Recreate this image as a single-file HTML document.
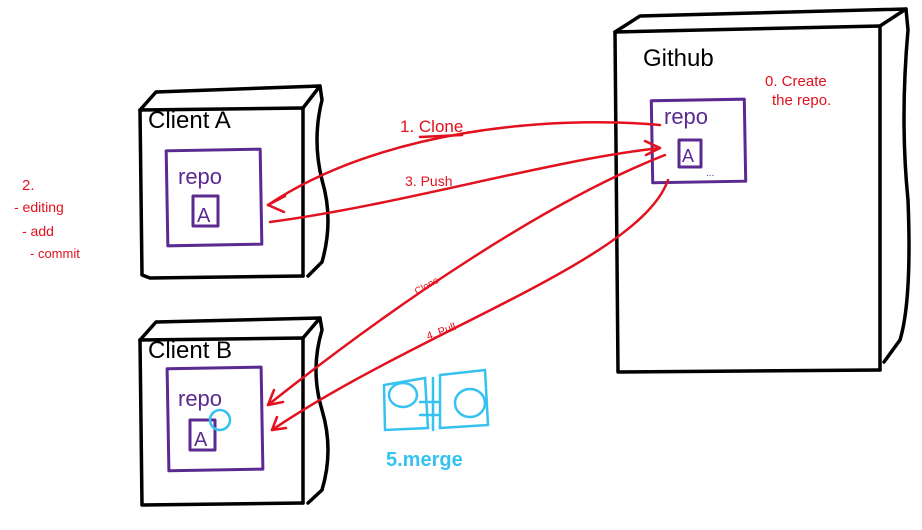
<!DOCTYPE html>
<html><head><meta charset="utf-8"><style>
html,body{margin:0;padding:0;background:#fff;width:922px;height:530px;overflow:hidden}
svg{display:block}
text{font-family:"Liberation Sans",sans-serif}
</style></head><body>
<svg width="922" height="530" viewBox="0 0 922 530" xmlns="http://www.w3.org/2000/svg">
<g fill="none" stroke="#000" stroke-width="3.5" stroke-linecap="round" stroke-linejoin="round">
<path d="M140,110 L142,275 L150,278 L303,276"/>
<path d="M140,110 L303,108 L303,276"/>
<path d="M140,110 L156,92 L320,86 L303,108"/>
<path d="M320,86 L322,100 Q312,140 322,180 Q334,220 322,262 L308,276"/>
<path d="M140,340 L142,505 L303,503"/>
<path d="M140,340 L303,338 L303,503"/>
<path d="M140,340 L156,322 L320,318 L303,338"/>
<path d="M320,318 L322,330 Q310,370 322,410 Q334,450 322,490 L308,503"/>
<path d="M615,32 L618,372 L880,370"/>
<path d="M615,32 L880,26 L880,370"/>
<path d="M615,32 L640,16 L906,9 L880,26"/>
<path d="M906,9 L908,30 Q900,120 908,200 Q912,300 900,340 L884,362"/>
</g>
<g fill="none" stroke="#5b2a91" stroke-width="3" stroke-linejoin="round" stroke-linecap="round">
<rect x="167" y="150" width="94" height="95" transform="rotate(-1 214 197)"/>
<rect x="193" y="196" width="25" height="30"/>
<rect x="652" y="100" width="93" height="82" transform="rotate(-1 698 141)"/>
<rect x="679" y="140" width="22" height="27"/>
<rect x="168" y="368" width="94" height="102" transform="rotate(-1 214 419)"/>
<rect x="190" y="420" width="25" height="30"/>
</g>
<g fill="#5b2a91" font-size="22">
<text x="178" y="184">repo</text><text x="197" y="222" font-size="20">A</text>
<text x="664" y="124">repo</text><text x="682" y="162" font-size="18">A</text>
<text x="706" y="176" font-size="10">...</text>
<text x="178" y="406">repo</text><text x="194" y="446" font-size="20">A</text>
</g>
<g fill="#000" font-size="24">
<text x="148" y="128">Client A</text>
<text x="148" y="358">Client B</text>
<text x="643" y="66">Github</text>
</g>
<g fill="none" stroke="#e3101e" stroke-width="2.5" stroke-linecap="round">
<path d="M660,125 C550,115 380,130 268,205"/>
<path d="M268,205 L285,196 M268,205 L284,212"/>
<path d="M270,222 C400,205 550,160 660,148"/>
<path d="M660,148 L645,141 M660,148 L646,155"/>
<path d="M665,155 C550,200 400,300 268,405"/>
<path d="M268,405 L274,390 M268,405 L283,402"/>
<path d="M668,180 C640,260 420,330 272,430"/>
<path d="M272,430 L277,417 M272,430 L286,428"/>
<path d="M420,137 L462,135"/>
</g>
<g fill="#e3101e">
<text x="400" y="132" font-size="17">1. Clone</text>
<text x="405" y="186" font-size="14">3.  Push</text>
<text x="417" y="295" font-size="10" transform="rotate(-30 417 295)">Clone</text>
<text x="428" y="340" font-size="11" transform="rotate(-20 428 340)">4. Pull</text>
<text x="765" y="86" font-size="15">0. Create</text>
<text x="772" y="105" font-size="15">the repo.</text>
<text x="22" y="190" font-size="15">2.</text>
<text x="14" y="212" font-size="14">- editing</text>
<text x="22" y="236" font-size="14">- add</text>
<text x="30" y="258" font-size="13">- commit</text>
</g>
<g fill="none" stroke="#36c2f0" stroke-width="2.5" stroke-linecap="round">
<circle cx="220" cy="420" r="10"/>
<path d="M385,430 L384,385 L425,378 L428,428 Z"/>
<path d="M420,402 L438,402 M420,415 L438,415 M433,378 L433,430"/>
<ellipse cx="403" cy="395" rx="14" ry="12"/>
<path d="M440,375 L485,370 L488,425 L440,428 Z"/>
<ellipse cx="470" cy="403" rx="15" ry="14"/>
</g>
<text x="386" y="466" fill="#36c2f0" font-size="20" font-weight="bold">5.merge</text>
</svg>
</body></html>
